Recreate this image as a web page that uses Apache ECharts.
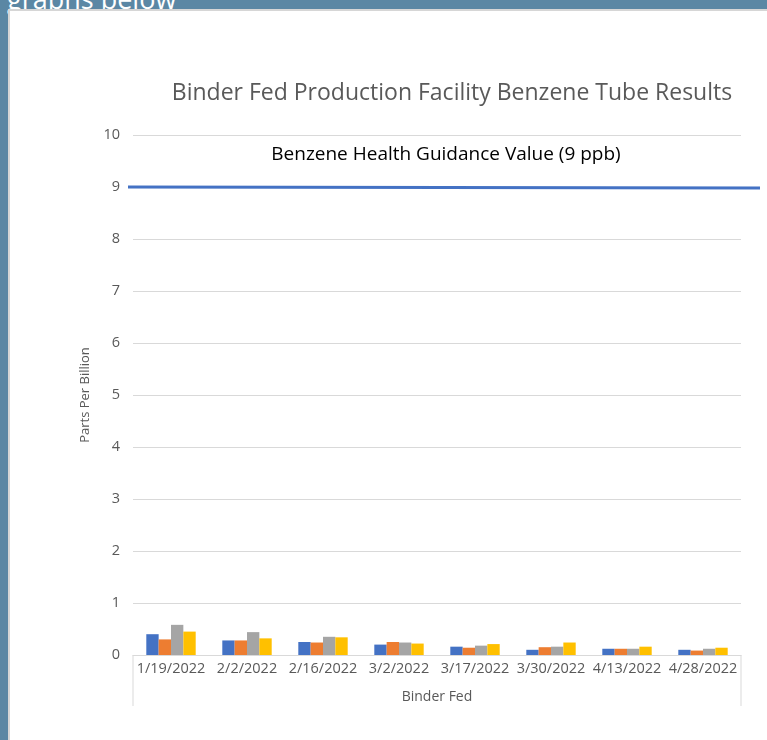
<!DOCTYPE html>
<html>
<head>
<meta charset="utf-8">
<script src="https://cdn.jsdelivr.net/npm/echarts@6/dist/echarts.min.js"></script>
<style>
  html, body { margin: 0; padding: 0; width: 767px; height: 740px; overflow: hidden; background: #5b87a4; }
  #hdr { position: absolute; left: 7px; top: -20px; font-family: "Open Sans", sans-serif; font-size: 27px; color: #ffffff; white-space: nowrap; }
  #panel { position: absolute; left: 8px; top: 9px; width: 759px; height: 731px; background: #ffffff; border-left: 2px solid #d6d6d6; border-top: 2px solid #d6d6d6; box-sizing: border-box; }
  #chart { position: absolute; left: 0; top: 0; width: 767px; height: 740px; }
</style>
</head>
<body>
<div id="hdr">graphs below</div>
<div id="panel"></div>
<div id="chart"></div>
<script>
const title = 'Binder Fed Production Facility Benzene Tube Results';
const categories = ['1/19/2022', '2/2/2022', '2/16/2022', '3/2/2022', '3/17/2022', '3/30/2022', '4/13/2022', '4/28/2022'];
const groupLabel = 'Binder Fed';
const yTitle = 'Parts Per Billion';
const seriesNames = ['Tube 1', 'Tube 2', 'Tube 3', 'Tube 4'];
const tube1 = [0.40, 0.28, 0.25, 0.20, 0.16, 0.10, 0.12, 0.10];
const tube2 = [0.30, 0.28, 0.24, 0.25, 0.14, 0.15, 0.12, 0.085];
const tube3 = [0.58, 0.44, 0.35, 0.24, 0.18, 0.16, 0.12, 0.12];
const tube4 = [0.45, 0.32, 0.34, 0.22, 0.21, 0.24, 0.16, 0.14];
const guidanceValue = 9;
const guidanceLabel = 'Benzene Health Guidance Value (9 ppb)';
const colors = ['#4472c4', '#ed7d31', '#a5a5a5', '#ffc000'];

const font = '"Open Sans", sans-serif';
const chart = echarts.init(document.getElementById('chart'), null, { renderer: 'canvas' });
const gridLeft = 133, gridRight = 26, gridTop = 135, gridBottom = 85;

const option = {
  backgroundColor: 'transparent',
  animation: false,
  color: colors,
  title: {
    text: title,
    left: 447, top: 77,
    textAlign: 'center',
    textStyle: { fontFamily: font, fontSize: 23, fontWeight: 'normal', color: '#595959' }
  },
  grid: { left: gridLeft, right: gridRight, top: gridTop, bottom: gridBottom, containLabel: false },
  xAxis: {
    type: 'category',
    data: categories,
    axisLine: { show: true, lineStyle: { color: '#d9d9d9', width: 1 } },
    axisTick: { show: false },
    axisLabel: { fontFamily: font, fontSize: 14.5, color: '#595959', margin: 6, interval: 0, hideOverlap: false },
    name: groupLabel,
    nameLocation: 'middle',
    nameGap: 35,
    nameTextStyle: { fontFamily: font, fontSize: 14, color: '#595959' }
  },
  yAxis: {
    type: 'value',
    min: 0, max: 10, interval: 1,
    axisLine: { show: false },
    axisTick: { show: false },
    splitLine: { lineStyle: { color: '#d9d9d9', width: 1 } },
    axisLabel: { fontFamily: font, fontSize: 14.5, color: '#595959', margin: 13 },
    name: yTitle,
    nameLocation: 'middle',
    nameGap: 41,
    nameRotate: 90,
    nameTextStyle: { fontFamily: font, fontSize: 13, color: '#595959' }
  },
  series: [tube1, tube2, tube3, tube4].map((d, i) => ({
    name: seriesNames[i],
    type: 'bar',
    data: d,
    barGap: '0%',
    barCategoryGap: '35%',
    itemStyle: { color: colors[i] }
  }))
};
chart.setOption(option);

function drawExtras() {
  const y9 = chart.convertToPixel({ yAxisIndex: 0 }, guidanceValue);
  const y0 = chart.convertToPixel({ yAxisIndex: 0 }, 0);
  const w = chart.getWidth();
  const xL = gridLeft, xR = w - gridRight;
  chart.setOption({
    graphic: [
      { type: 'line', shape: { x1: xL - 5, y1: y9, x2: w - 7, y2: y9 + 1 }, style: { stroke: '#4472c4', lineWidth: 3 }, z: 10 },
      { type: 'text', x: 446, y: y9 - 32, style: { text: guidanceLabel, fontFamily: font, fontSize: 19, fill: '#000000', textAlign: 'center', textVerticalAlign: 'middle' }, z: 10 },
      { type: 'line', shape: { x1: xL, y1: y0, x2: xL, y2: y0 + 51 }, style: { stroke: '#d9d9d9', lineWidth: 1 } },
      { type: 'line', shape: { x1: xR, y1: y0, x2: xR, y2: y0 + 51 }, style: { stroke: '#d9d9d9', lineWidth: 1 } }
    ]
  });
}
drawExtras();
</script>
</body>
</html>
